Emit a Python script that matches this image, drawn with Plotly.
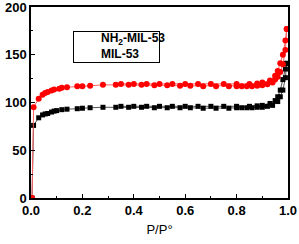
import plotly.graph_objects as go

# NH2-MIL-53 adsorption / desorption
nh2_ads_x = [0.004, 0.01, 0.03, 0.045, 0.055, 0.065, 0.08, 0.09, 0.1, 0.12, 0.14, 0.18, 0.2, 0.23, 0.28, 0.33, 0.38, 0.43, 0.48, 0.53, 0.58, 0.62, 0.67, 0.72, 0.77, 0.8, 0.82, 0.84, 0.86, 0.88, 0.9, 0.92, 0.94, 0.96, 0.97, 0.98, 0.99, 0.995]
nh2_ads_y = [0, 76, 84, 87, 88, 88.5, 90, 91, 91.5, 92.5, 93, 93.5, 94, 94.5, 95, 95, 95, 95, 94.5, 94.5, 94.5, 94.5, 94, 94, 94, 94.5, 94.5, 94.5, 94.5, 95, 95, 96, 97, 101, 106, 113, 126, 141]
nh2_des_x = [0.995, 0.99, 0.98, 0.97, 0.96, 0.95, 0.93, 0.9, 0.88, 0.85, 0.8, 0.75, 0.7, 0.65, 0.6, 0.55, 0.5, 0.45, 0.4, 0.35]
nh2_des_y = [141, 135, 124, 113, 106, 102, 99, 97, 96.5, 96, 96, 96, 96, 96, 96, 96, 96, 96, 96, 96]

# MIL-53 adsorption / desorption
mil_ads_x = [0.004, 0.01, 0.03, 0.045, 0.055, 0.065, 0.08, 0.09, 0.11, 0.12, 0.14, 0.18, 0.2, 0.23, 0.28, 0.33, 0.38, 0.43, 0.48, 0.53, 0.58, 0.62, 0.67, 0.72, 0.77, 0.8, 0.82, 0.84, 0.86, 0.88, 0.9, 0.92, 0.94, 0.95, 0.96, 0.97, 0.98, 0.99, 0.995]
mil_ads_y = [0, 95, 104, 108, 110, 111, 112.5, 113.5, 114.5, 115.5, 116, 117, 117, 117.5, 118.5, 118.5, 118.5, 118.5, 118, 118, 117.5, 117.5, 117, 117, 117, 117, 117, 117, 117, 117.5, 118, 119, 121, 124, 127, 132, 140, 155, 177]
mil_des_x = [0.995, 0.99, 0.98, 0.97, 0.96, 0.95, 0.93, 0.9, 0.88, 0.85, 0.8, 0.75, 0.7, 0.65, 0.6, 0.55, 0.5, 0.45, 0.4, 0.35]
mil_des_y = [177, 165, 150, 141, 133, 128, 123, 121, 120, 119.5, 119.5, 119.5, 119.5, 119.5, 119.5, 119.5, 119.5, 119.5, 119.5, 119.5]

labels = ["NH<sub>2</sub>-MIL-53", "MIL-53"]
line_colors = ["#555555", "#ff6060"]
marker_colors = ["black", "red"]

FONT = "Liberation Sans, Arial"

fig = go.Figure()
fig.add_trace(go.Scatter(x=nh2_ads_x + nh2_des_x, y=nh2_ads_y + nh2_des_y, mode="lines+markers",
                         name=labels[0], showlegend=False,
                         line=dict(color=line_colors[0], width=1),
                         marker=dict(symbol="square", size=5, color=marker_colors[0])))
fig.add_trace(go.Scatter(x=mil_ads_x + mil_des_x, y=mil_ads_y + mil_des_y, mode="lines+markers",
                         name=labels[1], showlegend=False,
                         line=dict(color=line_colors[1], width=1),
                         marker=dict(symbol="circle", size=6, color=marker_colors[1])))

axis_common = dict(showline=True, linecolor="black", linewidth=1.5, mirror=True,
                   ticks="inside", ticklen=4, tickwidth=1, tickcolor="black",
                   showgrid=False, zeroline=False, automargin=False,
                   ticklabeloverflow="allow",
                   tickfont=dict(family=FONT, size=13, color="black", weight="bold"))

fig.update_xaxes(range=[0, 1.0], dtick=0.2, tickformat=".1f",
                 minor=dict(ticks="inside", ticklen=2, dtick=0.1, tickcolor="black"),
                 title=dict(text="P/P°", font=dict(family=FONT, size=13, color="black"), standoff=8),
                 **axis_common)
fig.update_yaxes(range=[0, 200], dtick=50,
                 minor=dict(ticks="inside", ticklen=2, dtick=25, tickcolor="black"),
                 **axis_common)

# manual legend: bordered box (annotation) + sample lines/markers (shapes) + labels
bx0, by1 = 0.163, 0.874
annotations = [dict(xref="paper", yref="paper", x=bx0, y=by1, xanchor="left", yanchor="top",
                    text=" ", width=85, height=30, showarrow=False, align="left",
                    bordercolor="black", borderwidth=1, borderpad=0,
                    bgcolor="white", font=dict(size=8))]
shapes = []
rows_y = [0.832, 0.754]
for i, yy in enumerate(rows_y):
    shapes.append(dict(type="line", xref="paper", yref="paper", x0=0.171, x1=0.249, y0=yy, y1=yy,
                       line=dict(color=line_colors[i], width=1), layer="above"))
    dx, dy = 0.0085, 0.0115
    shapes.append(dict(type="rect" if i == 0 else "circle", xref="paper", yref="paper",
                       x0=0.210 - dx, x1=0.210 + dx, y0=yy - dy, y1=yy + dy,
                       line=dict(color=marker_colors[i], width=0.5), fillcolor=marker_colors[i], layer="above"))
    annotations.append(dict(xref="paper", yref="paper", x=0.265, y=yy, xanchor="left", yanchor="middle",
                            text="<b>" + labels[i] + "</b>", showarrow=False,
                            font=dict(family=FONT, size=12, color="black")))

fig.update_layout(
    width=299, height=244,
    margin=dict(l=31, r=11, t=7, b=46),
    plot_bgcolor="white", paper_bgcolor="white",
    showlegend=False,
    shapes=shapes, annotations=annotations,
)

fig.write_html("out.html", config={"displayModeBar": False},
               post_script="document.body.style.margin='0px';")
